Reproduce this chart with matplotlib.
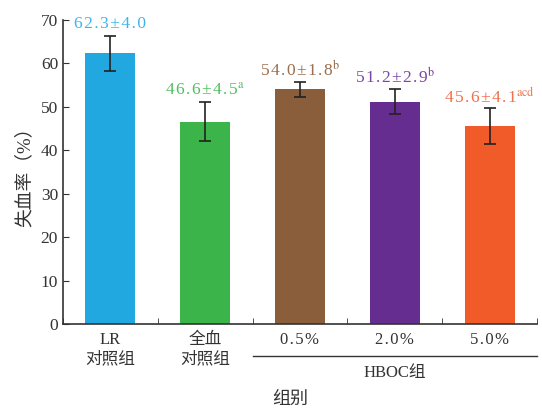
import matplotlib
matplotlib.use("Agg")
import matplotlib.pyplot as plt
import numpy as np

plt.rcParams['font.family'] = ['Liberation Serif', 'Noto Sans CJK SC', 'DejaVu Sans']
plt.rcParams['mathtext.fontset'] = 'stix'

categories = ['LR\n对照组', '全血\n对照组', '0.5%', '2.0%', '5.0%']
means = [62.3, 46.6, 54.0, 51.2, 45.6]
sds = [4.0, 4.5, 1.8, 2.9, 4.1]
sups = ['', 'a', 'b', 'b', 'acd']
bar_colors = ['#22A8E0', '#3BB54A', '#8A5D3B', '#652D90', '#F15A29']
label_colors = ['#3DB5EA', '#52BE5E', '#9A6E4E', '#7A45A3', '#F2704A']
yticks = [0, 10, 20, 30, 40, 50, 60, 70]

SP = '\u200A'


def spaced(s):
    return SP.join(s)


fig = plt.figure(figsize=(5.42, 4.08), dpi=100)
ax = fig.add_axes([0.116, 0.206, 0.875, 0.745])
x = np.arange(len(categories))
ax.bar(x, means, width=0.53, color=bar_colors, zorder=2)
ax.errorbar(x, means, yerr=sds, fmt='none', ecolor='#222222', elinewidth=1.2,
            capsize=4.5, capthick=1.2, zorder=3)
for xi, m, s, sp, c in zip(x, means, sds, sups, label_colors):
    txt = spaced(f'{m:.1f}±{s:.1f}')
    if sp:
        txt += r'$^{\mathrm{' + sp + '}}$'
    ax.text(xi, m + s + 2.7, txt, ha='center', va='center', color=c, fontsize=12.5)

ax.set_xlim(-0.5, 4.5)
ax.set_ylim(0, 70)
ax.set_yticks(yticks)
ax.set_xticks(x)
xlabels = [c if '\n' in c else spaced(c) for c in categories]
ax.set_xticklabels(xlabels, fontsize=12, color='#333333', linespacing=1.25)
ax.set_xticks(np.arange(-0.5, 4.6, 1.0), minor=True)
ax.tick_params(axis='x', which='major', length=0)
ax.tick_params(axis='x', which='minor', direction='in', length=4, color='#333333')
ax.tick_params(axis='y', direction='in', length=4, labelsize=12.5, colors='#333333')
ax.tick_params(axis='x', pad=6)
ax.spines['top'].set_visible(False)
ax.spines['right'].set_visible(False)
for sp_ in ['left', 'bottom']:
    ax.spines[sp_].set_color('#333333')
    ax.spines[sp_].set_linewidth(1.2)

# HBOC group bracket line
ax.plot([1.5, 4.5], [-7.4, -7.4], color='#333333', lw=1.0, clip_on=False)
ax.text(3.0, -11.3, 'HBOC组', ha='center', va='center', fontsize=12, color='#333333')
ax.set_ylabel('失血率（%）', fontsize=13.5, color='#333333', labelpad=5)
fig.text(0.536, 0.02, '组别', ha='center', va='center', fontsize=13, color='#333333')

fig.savefig('out.png', dpi=100)
